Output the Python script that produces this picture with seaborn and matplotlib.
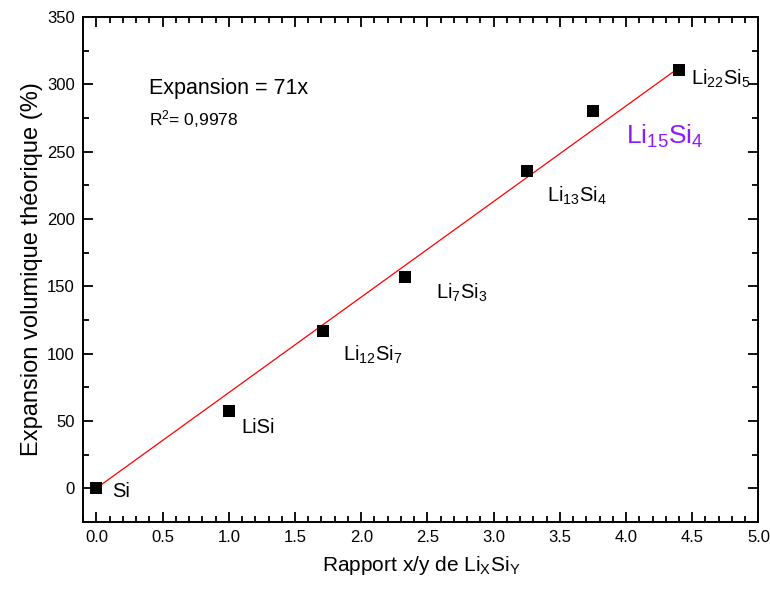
import numpy as np
import pandas as pd
import matplotlib
matplotlib.use("Agg")
import matplotlib.pyplot as plt
import seaborn as sns
from matplotlib.ticker import MultipleLocator

# ---- data ----
compounds = ["Si", "LiSi", "Li12Si7", "Li7Si3", "Li13Si4", "Li15Si4", "Li22Si5"]
ratio_xy = [0.0, 1.0, 12 / 7, 7 / 3, 3.25, 3.75, 4.4]
expansion = [0, 57, 117, 157, 236, 280, 311]
labels = ["Si", "LiSi", "Li$_{12}$Si$_{7}$", "Li$_{7}$Si$_{3}$", "Li$_{13}$Si$_{4}$",
          "Li$_{15}$Si$_{4}$", "Li$_{22}$Si$_{5}$"]
fit_slope = 71
r_squared = "0,9978"

df = pd.DataFrame({"x": ratio_xy, "y": expansion, "name": compounds})
fit_x = np.array([min(ratio_xy), max(ratio_xy)])
fit_df = pd.DataFrame({"x": fit_x, "y": fit_slope * fit_x})

sns.set_theme(style="ticks")
plt.rcParams["font.family"] = ["Liberation Sans", "DejaVu Sans"]
plt.rcParams["mathtext.fontset"] = "custom"
plt.rcParams["mathtext.rm"] = "Liberation Sans"
plt.rcParams["mathtext.it"] = "Liberation Sans:italic"
plt.rcParams["mathtext.bf"] = "Liberation Sans:bold"
plt.rcParams["text.color"] = "black"
plt.rcParams["axes.labelcolor"] = "black"

fig = plt.figure(figsize=(7.7, 5.89), dpi=100)
ax = fig.add_axes([0.108, 0.114, 0.877, 0.857])

sns.lineplot(data=fit_df, x="x", y="y", ax=ax, color="red", linewidth=0.9, zorder=2)
sns.scatterplot(data=df, x="x", y="y", ax=ax, marker="s", s=75, color="black",
                edgecolor="black", linewidth=0, zorder=3)

ax.set_xlim(-0.1, 5.0)
ax.set_ylim(-25, 350)
ax.xaxis.set_major_locator(MultipleLocator(0.5))
ax.xaxis.set_minor_locator(MultipleLocator(0.1))
ax.yaxis.set_major_locator(MultipleLocator(50))
ax.yaxis.set_minor_locator(MultipleLocator(25))
ax.xaxis.set_major_formatter(matplotlib.ticker.FormatStrFormatter("%.1f"))

ax.tick_params(which="both", direction="in", top=True, right=True, labelsize=12,
               colors="black", width=1.3)
ax.tick_params(which="major", length=7, pad=6)
ax.tick_params(which="minor", length=4)
for s in ax.spines.values():
    s.set_linewidth(1.4)
    s.set_color("black")

ax.set_xlabel(r"Rapport x/y de Li$_{\mathrm{X}}$Si$_{\mathrm{Y}}$", fontsize=15, labelpad=6)
ax.set_ylabel("Expansion volumique théorique (%)", fontsize=17, labelpad=3)

offsets = {
    "Si": (0.12, -6.7, 14.5, "black"),
    "LiSi": (0.092, -16, 14.5, "black"),
    "Li12Si7": (0.146, -22, 14.5, "black"),
    "Li7Si3": (0.23, -16, 14.5, "black"),
    "Li13Si4": (0.154, -23, 14.5, "black"),
    "Li15Si4": (0.25, -24, 19, "#8C1AFF"),
    "Li22Si5": (0.09, -11, 14.5, "black"),
}
for name, xv, yv, lab in zip(compounds, ratio_xy, expansion, labels):
    dx, dy, fs, col = offsets[name]
    ax.text(xv + dx, yv + dy, lab, fontsize=fs, color=col, ha="left", va="baseline")

ax.text(0.395, 292.5, f"Expansion = {fit_slope}x", fontsize=15.5, ha="left", va="baseline")
ax.text(0.395, 269.7, "R$^{2}$= " + r_squared, fontsize=12.5, ha="left", va="baseline")

fig.savefig("out.png", dpi=100)
